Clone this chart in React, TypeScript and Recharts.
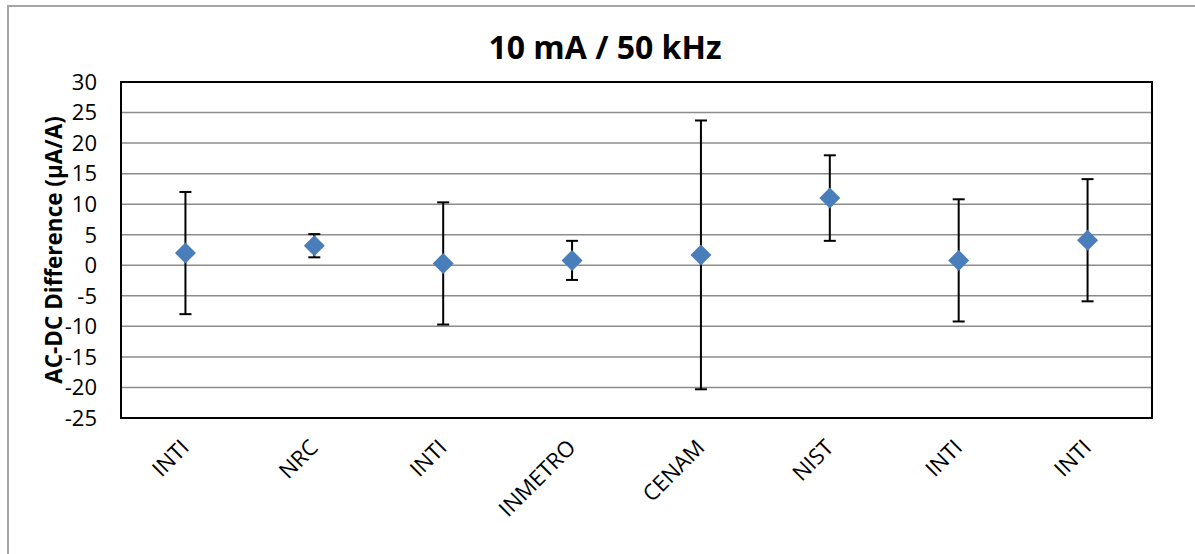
import React from 'react';
import { ComposedChart, Scatter, ErrorBar, XAxis, YAxis, CartesianGrid, ReferenceArea } from 'recharts';

// labs in the order they appear on the x axis
const labs = ['INTI', 'NRC', 'INTI', 'INMETRO', 'CENAM', 'NIST', 'INTI', 'INTI'];
const acdcDiff = [2.0, 3.2, 0.3, 0.8, 1.7, 11.0, 0.8, 4.1];
const uncertainty = [10, 1.9, 10, 3.2, 22, 7, 10, 10];
const yTicks = [-25, -20, -15, -10, -5, 0, 5, 10, 15, 20, 25, 30];
const xTicks = [1, 2, 3, 4, 5, 6, 7, 8];

const data = labs.map((lab, i) => ({
  x: xTicks[i],
  lab,
  y: acdcDiff[i],
  err: uncertainty[i],
}));

const FONT = '"Open Sans", sans-serif';

const Diamond = (props: any) => {
  const { cx, cy } = props;
  const r = 10.5;
  return (
    <polygon
      points={`${cx},${cy - r} ${cx + r},${cy} ${cx},${cy + r} ${cx - r},${cy}`}
      fill="#4a7ebb"
    />
  );
};

const LabTick = (props: any) => {
  const { x, y, payload } = props;
  const ax = x + 5;
  const ay = y + 31;
  return (
    <text
      x={ax}
      y={ay}
      transform={`rotate(-45 ${ax} ${ay})`}
      textAnchor="end"
      fontFamily={FONT}
      fontSize={22}
      fill="#000"
    >
      {labs[payload.value - 1]}
    </text>
  );
};

const App: React.FC = () => {
  return (
    <div style={{ position: 'absolute', left: 0, top: 0, width: 1195, height: 554, background: '#fff', overflow: 'hidden' }}>
      {/* outer chart frame */}
      <div style={{ position: 'absolute', left: 7, top: 5, width: 1200, height: 560, border: '2px solid #a6a6a6', boxSizing: 'border-box' }} />
      <div
        style={{
          position: 'absolute',
          left: 0,
          width: 1210,
          top: 31,
          textAlign: 'center',
          fontFamily: FONT,
          fontWeight: 700,
          fontSize: 32,
          lineHeight: '32px',
          color: '#000',
        }}
      >
        10 mA / 50 kHz
      </div>
      <div
        style={{
          position: 'absolute',
          left: 54,
          top: 250,
          transform: 'translate(-50%, -50%) rotate(-90deg)',
          whiteSpace: 'nowrap',
          fontFamily: FONT,
          fontWeight: 700,
          fontSize: 22.5,
          lineHeight: '22px',
          color: '#000',
        }}
      >
        AC-DC Difference (µA/A)
      </div>
      <div style={{ position: 'absolute', left: 0, top: 0 }}>
        <ComposedChart width={1195} height={554} data={data} margin={{ top: 82, right: 43, left: 0, bottom: 0 }}>
          <CartesianGrid vertical={false} stroke="#8c8c8c" strokeWidth={1.5} />
          <XAxis
            type="number"
            dataKey="x"
            domain={[0.5, 8.5]}
            ticks={xTicks}
            interval={0}
            height={136}
            axisLine={false}
            tickLine={false}
            tickSize={0}
            tickMargin={0}
            tick={<LabTick />}
          />
          <YAxis
            type="number"
            dataKey="y"
            domain={[-25, 30]}
            ticks={yTicks}
            interval={0}
            width={121}
            axisLine={false}
            tickLine={false}
            tickSize={0}
            tickMargin={24}
            tick={{ fontFamily: FONT, fontSize: 22, fill: '#000' }}
          />
          <ReferenceArea x1={0.5} x2={8.5} y1={-25} y2={30} fill="none" stroke="#000" strokeWidth={2} ifOverflow="visible" />
          <Scatter dataKey="y" shape={<Diamond />} isAnimationActive={false}>
            <ErrorBar dataKey="err" direction="y" width={6} stroke="#000" strokeWidth={2} />
          </Scatter>
        </ComposedChart>
      </div>
    </div>
  );
};

export default App;
